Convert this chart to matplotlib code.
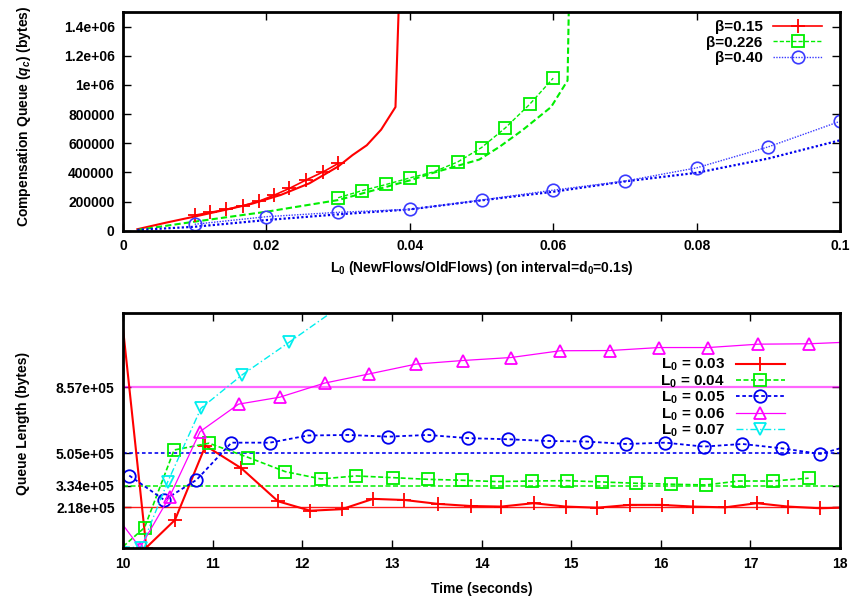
import matplotlib

matplotlib.use('Agg')

import matplotlib.pyplot as plt

plt.rcParams['font.family'] = ['Liberation Sans', 'DejaVu Sans']
plt.rcParams['font.size'] = 10
plt.rcParams['font.weight'] = 'bold'
plt.rcParams['axes.labelweight'] = 'bold'
plt.rcParams['mathtext.fontset'] = 'custom'
plt.rcParams['mathtext.rm'] = 'Liberation Sans:bold'
plt.rcParams['mathtext.it'] = 'Liberation Sans:italic:bold'
plt.rcParams['mathtext.bf'] = 'Liberation Sans:bold'
plt.rcParams['mathtext.default'] = 'rm'

# ---- top panel: compensation queue vs L0 ----
beta_labels = ['β=0.15', 'β=0.226', 'β=0.40']

# model curves (no markers)
red_model_x = [0.002, 0.006, 0.010, 0.014, 0.018, 0.022, 0.026, 0.030, 0.032, 0.034, 0.036, 0.038, 0.0385]
red_model_y = [10e3, 55e3, 97e3, 140e3, 185e3, 245e3, 325e3, 440e3, 518e3, 586e3, 693e3, 848e3, 1.6e6]
green_model_x = [0.002, 0.010, 0.020, 0.030, 0.040, 0.0432, 0.0497, 0.0525, 0.0557, 0.0597, 0.0620, 0.0622]
green_model_y = [5e3, 62e3, 130e3, 210e3, 345e3, 396e3, 488e3, 575e3, 689e3, 848e3, 1.03e6, 1.6e6]
blue_model_x = [0.002, 0.01, 0.02, 0.03, 0.04, 0.05, 0.06, 0.07, 0.08, 0.09, 0.1]
blue_model_y = [5e3, 27e3, 73e3, 112e3, 146e3, 208e3, 267e3, 338e3, 397e3, 495e3, 620e3]

# simulation points (markers)
red_sim_x = [0.0101, 0.0122, 0.0144, 0.0167, 0.0190, 0.0211, 0.0232, 0.0255, 0.0279, 0.0300]
red_sim_y = [107e3, 126e3, 146e3, 171e3, 203e3, 244e3, 290e3, 347e3, 403e3, 461e3]
green_sim_x = [0.0300, 0.0333, 0.0367, 0.0400, 0.0433, 0.0467, 0.0500, 0.0533, 0.0567, 0.0600]
green_sim_y = [226e3, 274e3, 317e3, 362e3, 403e3, 472e3, 570e3, 704e3, 866e3, 1046e3]
blue_sim_x = [0.01, 0.02, 0.03, 0.04, 0.05, 0.06, 0.07, 0.08, 0.09, 0.1]
blue_sim_y = [44e3, 96e3, 126e3, 146e3, 210e3, 278e3, 340e3, 431e3, 575e3, 750e3]

top_yticks = [0, 200000, 400000, 600000, 800000, 1000000, 1200000, 1400000]
top_yticklabels = ['0', '200000', '400000', '600000', '800000', '1e+06', '1.2e+06', '1.4e+06']
top_xticks = [0, 0.02, 0.04, 0.06, 0.08, 0.1]
top_xticklabels = ['0', '0.02', '0.04', '0.06', '0.08', '0.1']

# ---- bottom panel: queue length vs time ----
l0_labels = ['L$_0$ = 0.03', 'L$_0$ = 0.04', 'L$_0$ = 0.05', 'L$_0$ = 0.06', 'L$_0$ = 0.07']
targets = [2.18e5, 3.34e5, 5.05e5, 8.57e5]
target_labels = ['2.18e+05', '3.34e+05', '5.05e+05', '8.57e+05']

t_003 = [10.0, 10.26, 10.58, 10.92, 11.32, 11.73, 12.09, 12.44, 12.79, 13.14, 13.52, 13.88,
         14.22, 14.58, 14.94, 15.29, 15.66, 16.01, 16.36, 16.72, 17.07, 17.42, 17.78, 18.0]
q_003 = [1.17e6, 4e3, 151e3, 546e3, 426e3, 250e3, 200e3, 208e3, 263e3, 257e3, 236e3, 225e3,
         222e3, 240e3, 222e3, 216e3, 231e3, 231e3, 222e3, 218e3, 240e3, 222e3, 213e3, 216e3]
t_004 = [10.0, 10.24, 10.57, 10.96, 11.40, 11.81, 12.21, 12.60, 13.01, 13.40, 13.78,
         14.17, 14.56, 14.95, 15.34, 15.72, 16.11, 16.50, 16.87, 17.25, 17.65]
q_004 = [9e3, 110e3, 523e3, 559e3, 483e3, 408e3, 369e3, 385e3, 376e3, 367e3, 362e3,
         355e3, 358e3, 360e3, 353e3, 346e3, 341e3, 337e3, 358e3, 358e3, 373e3]
t_005 = [10.07, 10.46, 10.82, 11.21, 11.64, 12.06, 12.51, 12.96, 13.40, 13.85,
         14.30, 14.74, 15.17, 15.61, 16.05, 16.48, 16.91, 17.35, 17.78, 18.0]
q_005 = [387e3, 257e3, 364e3, 562e3, 562e3, 600e3, 603e3, 594e3, 603e3, 586e3,
         580e3, 571e3, 568e3, 555e3, 562e3, 541e3, 555e3, 532e3, 502e3, 532e3]
t_006 = [10.0, 10.19, 10.52, 10.86, 11.29, 11.75, 12.25, 12.75, 13.27, 13.79,
         14.33, 14.88, 15.43, 15.98, 16.53, 17.09, 17.65, 18.0]
q_006 = [124e3, 3e3, 275e3, 621e3, 767e3, 804e3, 879e3, 928e3, 980e3, 999e3,
         1015e3, 1051e3, 1052e3, 1068e3, 1068e3, 1086e3, 1088e3, 1095e3]
t_007 = [10.0, 10.2, 10.50, 10.87, 11.33, 11.85, 12.4]
q_007 = [9e3, 2e3, 355e3, 745e3, 923e3, 1095e3, 1280e3]

fig = plt.figure(figsize=(8.53, 6.05), dpi=100)
ax1 = fig.add_axes([0.1442, 0.6187, 0.8406, 0.3615])
ax2 = fig.add_axes([0.1442, 0.0937, 0.8406, 0.3884])

# top panel
ax1.plot(red_model_x, red_model_y, color='#ff0000', lw=1.5)
ax1.plot(green_model_x, green_model_y, color='#00ee00', lw=1.5, ls=(0, (3, 1.5)))
ax1.plot(blue_model_x, blue_model_y, color='#0000ee', lw=1.6, ls=(0, (1, 1)))
ax1.plot(red_sim_x, red_sim_y, color='#ff0000', lw=1.2, marker='+', ms=10, mew=1.3, label=beta_labels[0])
ax1.plot(green_sim_x, green_sim_y, color='#00ee00', lw=1.0, ls=(0, (3, 1.5)), marker='s', ms=9,
         mfc='none', mew=1.3, label=beta_labels[1])
ax1.plot(blue_sim_x, blue_sim_y, color='#3a3aff', lw=1.0, ls=(0, (1, 1)), marker='o', ms=9,
         mfc='none', mew=1.2, label=beta_labels[2])

ax1.set_xlim(0, 0.1)
ax1.set_ylim(0, 1.5e6)
ax1.set_xticks(top_xticks, top_xticklabels)
ax1.set_yticks(top_yticks, top_yticklabels)
ax1.set_xlabel('L$_0$ (NewFlows/OldFlows) (on interval=d$_0$=0.1s)', labelpad=4)
ax1.set_ylabel('Compensation Queue ($\\mathit{q_c}$) (bytes)', labelpad=22, y=0.524)
ax1.legend(loc='upper right', bbox_to_anchor=(0.975, 0.963), frameon=False, markerfirst=False,
           borderpad=0, borderaxespad=0, handlelength=3.2, handletextpad=0.7, labelspacing=0.1,
           fontsize=11)

# bottom panel
line_colors = ['#ff0000', '#00ee00', '#0000ee', '#ff00ff', '#00eeee']
for val, col, ls, lw, a in zip(targets, line_colors, ['-', (0, (3, 1.5)), (0, (2, 1.5)), '-'],
                               [1.0, 1.2, 1.3, 1.6], [0.9, 0.9, 0.9, 0.6]):
    ax2.axhline(val, color=col, ls=ls, lw=lw, alpha=a)

ax2.plot(t_003, q_003, color='#ff0000', lw=1.5, marker='+', ms=10, mew=1.3,
         markevery=list(range(1, len(t_003) - 1)), label=l0_labels[0])
ax2.plot(t_004, q_004, color='#00ee00', lw=1.2, ls=(0, (3, 1.5)), marker='s', ms=9, mfc='none',
         mew=1.3, markevery=list(range(1, len(t_004))), label=l0_labels[1])
ax2.plot(t_005, q_005, color='#0000ee', lw=1.3, ls=(0, (2, 1.5)), marker='o', ms=9, mfc='none',
         mew=1.3, markevery=list(range(0, len(t_005) - 1)), label=l0_labels[2])
ax2.plot(t_006, q_006, color='#ff00ff', lw=0.9, marker='^', ms=9, mfc='none', mew=1.3,
         markevery=list(range(1, len(t_006) - 1)), label=l0_labels[3])
ax2.plot(t_007, q_007, color='#00eeee', lw=1.0, ls=(0, (5, 2, 1, 2)), marker='v', ms=9, mfc='none',
         mew=1.3, markevery=list(range(1, len(t_007) - 1)), label=l0_labels[4])

ax2.set_xlim(10, 18)
ax2.set_ylim(0, 1.25e6)
ax2.set_xticks(range(10, 19))
ax2.set_yticks(targets, target_labels)
ax2.set_xlabel('Time (seconds)', labelpad=8)
ax2.set_ylabel('Queue Length (bytes)', labelpad=19, y=0.533)
ax2.legend(loc='upper right', bbox_to_anchor=(0.923, 0.814), frameon=False, markerfirst=False,
           borderpad=0, borderaxespad=0, handlelength=3.2, handletextpad=0.7, labelspacing=0.0,
           fontsize=11)

for ax in (ax1, ax2):
    for sp in ax.spines.values():
        sp.set_linewidth(2)
    ax.tick_params(direction='in', top=True, right=True, length=6, width=1, pad=6)

fig.savefig('out.png', dpi=100)
